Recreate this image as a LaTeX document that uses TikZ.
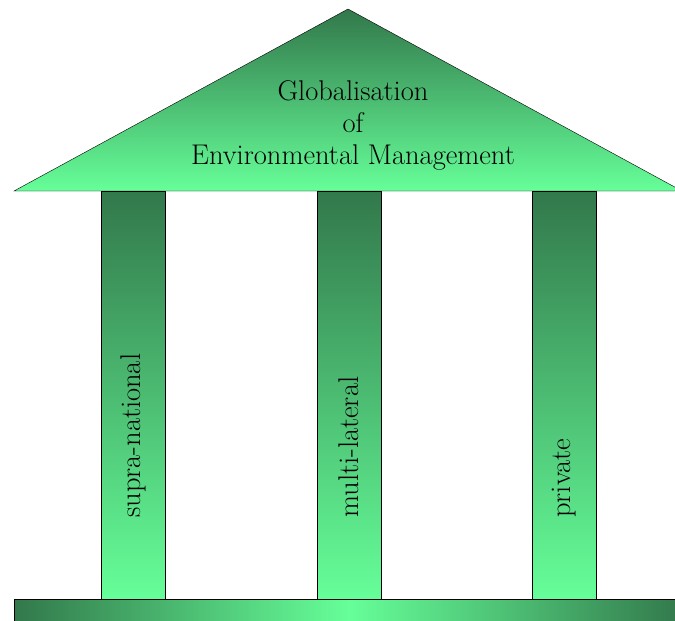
\documentclass[tikz,border=0pt]{standalone}
\usepackage{fontspec}
\usetikzlibrary{positioning}

\definecolor{templedark}{RGB}{50,120,75}
\definecolor{templelight}{RGB}{102,255,153}

\begin{document}
\begin{tikzpicture}[x=1pt, y=-1pt]
    % Define styles
    \tikzset{
        roof/.style = {draw, thin, top color=templedark, bottom color=templelight},
        pillar/.style = {rectangle, draw, thin, minimum width=64pt, minimum height=408pt,
            top color=templedark, bottom color=templelight, inner sep=0pt},
        plinth/.style = {rectangle, draw, thin, minimum width=670pt, minimum height=22pt,
            left color=templedark, right color=templedark, middle color=templelight, inner sep=0pt},
        pillartext/.style = {rotate=90, anchor=west, font=\fontsize{28.5}{32}\selectfont}
    }
    \useasboundingbox (0,0) rectangle (675,621);

    % Roof
    \coordinate (apex) at (348,9);
    \coordinate (eaveL) at (14,191);
    \coordinate (eaveR) at (682,191);
    \path [roof] (apex) -- (eaveR) -- (eaveL) -- cycle;
    \node [align=center, font=\fontsize{28.5}{32}\selectfont] (title) at (353,125)
        {Globalisation\\of\\Environmental Management};

    % Pillars
    \node [pillar] (supra) at (133,395) {};
    \node [pillar] (multi) at (349,395) {};
    \node [pillar] (private) at (564.5,395) {};
    \node [pillartext, above=78pt of supra.south, anchor=west] {supra-national};
    \node [pillartext, above=78pt of multi.south, anchor=west] {multi-lateral};
    \node [pillartext, above=78pt of private.south, anchor=west] {private};

    % Base
    \node [plinth] (base) at (349,610) {};
\end{tikzpicture}
\end{document}
